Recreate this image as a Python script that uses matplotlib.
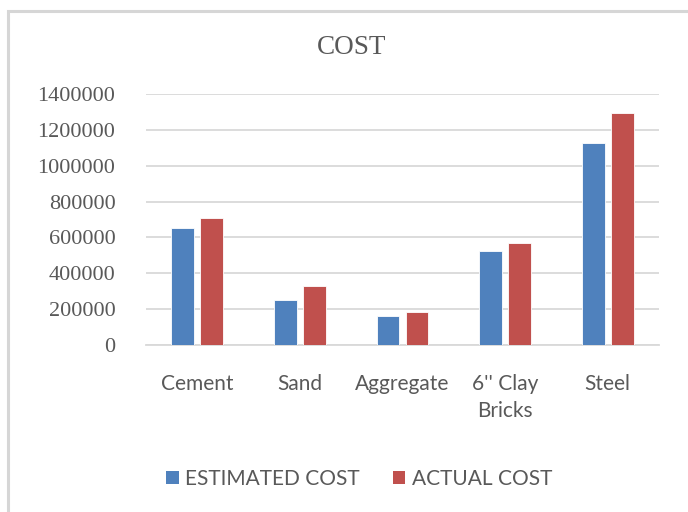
import numpy as np
import matplotlib
matplotlib.use('Agg')
import matplotlib.pyplot as plt
from matplotlib.patches import Rectangle, Patch

categories = ['Cement', 'Sand', 'Aggregate', "6'' Clay\nBricks", 'Steel']
estimated_cost = [650000, 252000, 160000, 524000, 1125000]
actual_cost = [710000, 330000, 182000, 568000, 1295000]
yticks = [0, 200000, 400000, 600000, 800000, 1000000, 1200000, 1400000]

BLUE = '#4F81BD'
RED = '#C0504D'
GRID = '#D9D9D9'
TEXT = '#595959'

fig = plt.figure(figsize=(6.88, 5.12), dpi=100)
ax = fig.add_axes([146 / 688, 1 - 345 / 512, (659 - 146) / 688, (345 - 94) / 512])

# outer chart frame (only top and left edges are visible in the crop)
fig.patches.append(Rectangle((8 / 688, -0.5), 2.0, 1.5 - 11 / 512,
                             transform=fig.transFigure, fill=False,
                             edgecolor='#D6D6D6', linewidth=2.2))

x = np.arange(len(categories))
w = 0.222
off = 0.141
ax.bar(x - off, estimated_cost, w, color=BLUE, edgecolor='white', linewidth=0.6, zorder=3)
ax.bar(x + off, actual_cost, w, color=RED, edgecolor='white', linewidth=0.6, zorder=3)

ax.set_xlim(-0.5, len(categories) - 0.5)
ax.set_ylim(0, 1400000)
ax.set_yticks(yticks)
ax.set_yticklabels([str(v) for v in yticks], fontfamily='Liberation Serif', fontsize=16, color=TEXT)
ax.set_xticks(x)
ax.set_xticklabels(categories, fontfamily='Lato', fontsize=15, color=TEXT, linespacing=1.45, va='top')
ax.tick_params(axis='y', length=0, pad=22)
ax.tick_params(axis='x', length=0, pad=21)

ax.grid(axis='y', color=GRID, linewidth=1.3, zorder=0)
for s in ['top', 'right', 'left']:
    ax.spines[s].set_visible(False)
ax.spines['bottom'].set_color(GRID)
ax.spines['bottom'].set_linewidth(1.3)

fig.text(352 / 688, 1 - 47 / 512, 'COST', ha='center', va='center',
         fontfamily='Liberation Serif', fontsize=19.5, color=TEXT)

handles = [Patch(facecolor=BLUE, edgecolor='none'), Patch(facecolor=RED, edgecolor='none')]
fig.legend(handles, ['ESTIMATED COST', 'ACTUAL COST'], loc='center',
           bbox_to_anchor=(359 / 688, 1 - 479 / 512), ncol=2, frameon=False,
           prop={'family': 'Lato', 'size': 15}, labelcolor=TEXT,
           handlelength=0.6, handleheight=0.6, handletextpad=0.3, columnspacing=1.6)

plt.savefig('out.png', dpi=100)
